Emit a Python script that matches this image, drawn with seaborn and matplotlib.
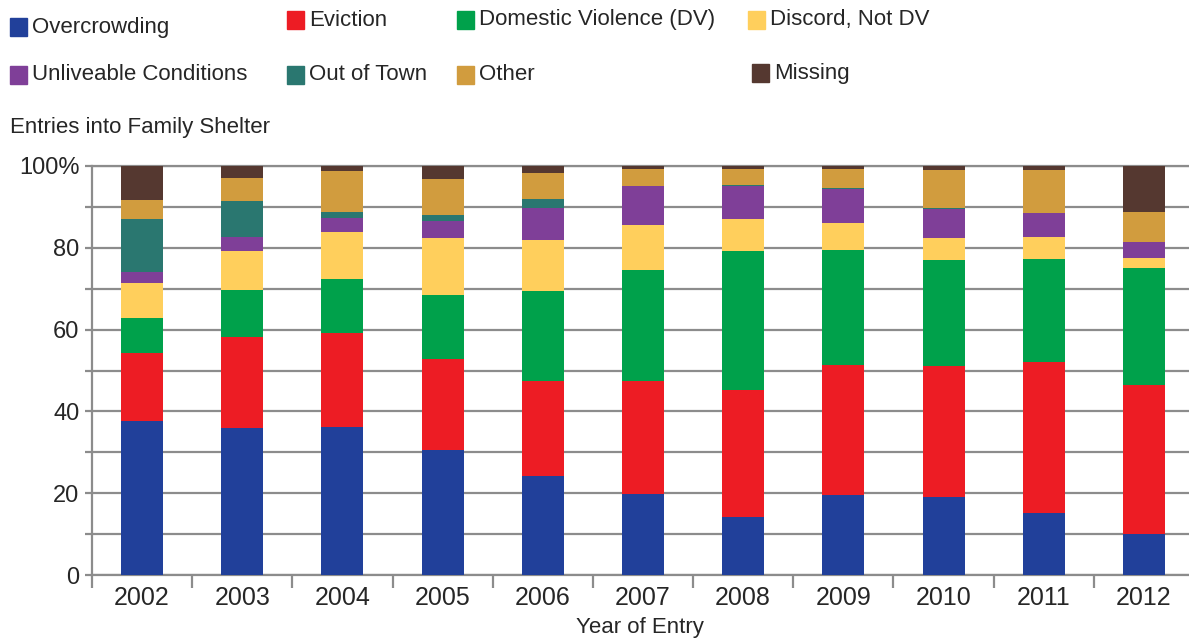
import numpy as np
import pandas as pd
import matplotlib
matplotlib.use("Agg")
import matplotlib.pyplot as plt
import matplotlib.patches as mpatches
import seaborn as sns

# Datos (porcentaje de entradas por causa)
years = ['2002', '2003', '2004', '2005', '2006', '2007', '2008', '2009', '2010', '2011', '2012']
overcrowding = [37.7, 36.0, 36.2, 30.6, 24.2, 19.8, 14.2, 19.6, 19.1, 15.2, 10.1]
eviction = [16.7, 22.1, 22.9, 22.1, 23.3, 27.6, 31.0, 31.7, 32.0, 36.8, 36.3]
domestic_violence = [8.4, 11.5, 13.3, 15.8, 21.9, 27.2, 33.9, 28.1, 25.8, 25.3, 28.6]
discord = [8.7, 9.7, 11.5, 13.8, 12.4, 10.9, 7.9, 6.7, 5.5, 5.3, 2.4]
unliveable = [2.7, 3.3, 3.5, 4.3, 8.0, 9.5, 8.2, 8.2, 7.1, 5.8, 3.9]
out_of_town = [12.8, 8.9, 1.3, 1.4, 2.1, 0.2, 0.2, 0.3, 0.3, 0.2, 0.0]
other = [4.7, 5.6, 10.0, 8.7, 6.5, 4.1, 3.9, 4.6, 9.3, 10.5, 7.5]
missing = [8.3, 2.9, 1.3, 3.3, 1.6, 0.7, 0.7, 0.8, 0.9, 0.9, 11.2]

causes = ['Overcrowding', 'Eviction', 'Domestic Violence (DV)', 'Discord, Not DV',
          'Unliveable Conditions', 'Out of Town', 'Other', 'Missing']
colors = ['#21409A', '#ED1C24', '#00A14B', '#FFCF5C',
          '#7F3F98', '#2A7770', '#D19C3E', '#553830']

df = pd.DataFrame({
    'year': years,
    'Overcrowding': overcrowding,
    'Eviction': eviction,
    'Domestic Violence (DV)': domestic_violence,
    'Discord, Not DV': discord,
    'Unliveable Conditions': unliveable,
    'Out of Town': out_of_town,
    'Other': other,
    'Missing': missing,
})

# Acumulados para apilar las barras
cum = df[causes].cumsum(axis=1)

sns.set_style("white")
plt.rcParams['font.family'] = ['Liberation Sans', 'DejaVu Sans']

W, H = 1189, 639
fig = plt.figure(figsize=(W / 100, H / 100), dpi=100)
ax = fig.add_axes([92 / W, 64 / H, 1102 / W, 409 / H])

grid_col = '#8c8c8c'

# Dibujamos de arriba hacia abajo: cada barra tapa la parte inferior de la anterior
for cause, col in reversed(list(zip(causes, colors))):
    sns.barplot(x=df['year'], y=cum[cause], order=years, color=col,
                saturation=1, width=0.42, linewidth=0, ax=ax, zorder=3)

ax.set_xlim(-0.5, len(years) - 0.5)
ax.set_ylim(0, 100)
ax.set_xlabel('')
ax.set_ylabel('')

yt = list(range(0, 101, 10))
ax.set_yticks(yt)
ax.set_yticklabels(['100%' if v == 100 else (str(v) if v % 20 == 0 else '') for v in yt],
                   fontsize=17)
ax.yaxis.grid(True, color=grid_col, linewidth=1.6)
ax.set_axisbelow(True)
ax.axhline(100, color=grid_col, linewidth=1.6, clip_on=False, zorder=1)
ax.tick_params(axis='y', length=5, width=1.6, color=grid_col, pad=4, left=True)

ax.set_xticks(range(len(years)))
ax.set_xticklabels(years, fontsize=18)
ax.set_xticks(np.arange(-0.5, len(years), 1), minor=True)
ax.tick_params(axis='x', which='major', length=0, pad=8)
ax.tick_params(axis='x', which='minor', length=9, width=1.6, color=grid_col, bottom=True)

for s in ['top', 'right']:
    ax.spines[s].set_visible(False)
for s in ['left', 'bottom']:
    ax.spines[s].set_color(grid_col)
    ax.spines[s].set_linewidth(1.6)

# Leyenda manual en dos filas
legend_pos = [
    ('Overcrowding', 10, 27), ('Eviction', 287, 20),
    ('Domestic Violence (DV)', 457, 20), ('Discord, Not DV', 748, 20),
    ('Unliveable Conditions', 10, 75), ('Out of Town', 287, 75),
    ('Other', 457, 75), ('Missing', 752, 73),
]
col_map = dict(zip(causes, colors))
for name, px, py in legend_pos:
    fig.add_artist(mpatches.Rectangle((px / W, 1 - (py + 8.5) / H), 17 / W, 17 / H,
                                      transform=fig.transFigure, color=col_map[name]))
    fig.text((px + 22) / W, 1 - py / H, name, fontsize=16, va='center', ha='left')

fig.text(10 / W, 1 - 127 / H, 'Entries into Family Shelter', fontsize=16, va='center')
fig.text(640 / W, 1 - 628 / H, 'Year of Entry', fontsize=16, va='center', ha='center')

fig.savefig('out.png', dpi=100)
